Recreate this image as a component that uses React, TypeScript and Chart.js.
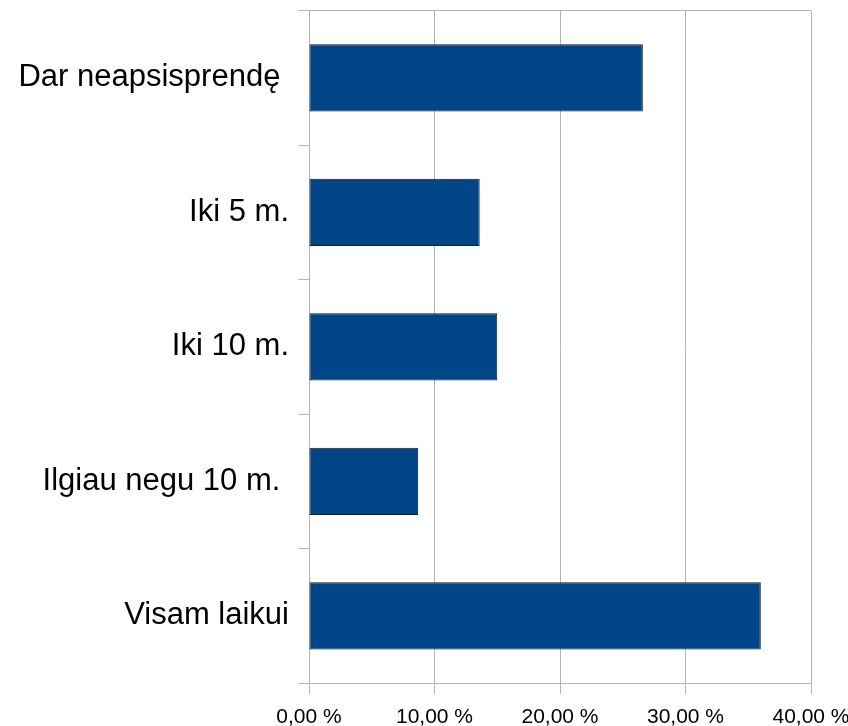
import React, { useEffect, useRef } from "react";
import { Chart, registerables } from "chart.js";

Chart.register(...registerables);

const categories = [
  "Dar neapsisprendę ",
  "Iki 5 m.",
  "Iki 10 m.",
  "Ilgiau negu 10 m. ",
  "Visam laikui",
];
const values = [26.6, 13.6, 15.0, 8.7, 36.0];
const xTickLabels = ["0,00 %", "10,00 %", "20,00 %", "30,00 %", "40,00 %"];

const GRID = "#b3b3b3";
const FONT = "'Liberation Sans', Arial, sans-serif";

export default function App() {
  const ref = useRef<HTMLCanvasElement | null>(null);

  useEffect(() => {
    if (!ref.current) return;
    const chart = new Chart(ref.current, {
      type: "bar",
      data: {
        labels: categories,
        datasets: [
          {
            data: values,
            backgroundColor: "#004586",
            borderColor: "#0a1a2a",
            borderWidth: 1,
            borderSkipped: false,
            barPercentage: 0.5,
            categoryPercentage: 1,
          },
        ],
      },
      options: {
        indexAxis: "y",
        animation: false,
        responsive: true,
        maintainAspectRatio: false,
        layout: { padding: { top: 10.5, left: 0, right: 0, bottom: 0 } },
        plugins: { legend: { display: false }, tooltip: { enabled: false } },
        scales: {
          x: {
            min: 0,
            max: 40,
            ticks: {
              stepSize: 10,
              color: "#000",
              padding: 11,
              font: { family: FONT, size: 21 },
              callback: (_v: any, i: number) => xTickLabels[i],
            },
            grid: { color: GRID, tickColor: GRID, tickLength: 11, lineWidth: 1 },
            border: { color: GRID, width: 1 },
            afterFit: (s: any) => {
              s.height = 43;
              s.paddingRight = 37;
              s.paddingLeft = 0;
            },
          },
          y: {
            ticks: {
              color: "#000",
              padding: 9,
              font: { family: FONT, size: 31 },
            },
            grid: {
              offset: true,
              drawOnChartArea: true,
              color: (ctx: any) => (ctx.index === 0 ? GRID : "rgba(0,0,0,0)"),
              tickColor: GRID,
              tickLength: 11,
            },
            border: { color: GRID, width: 1 },
            afterFit: (s: any) => {
              s.width = 309;
              s.paddingTop = 0;
              s.paddingBottom = 0;
            },
          },
        },
      },
    });
    return () => chart.destroy();
  }, []);

  return (
    <div style={{ position: "fixed", left: 0, top: 0, width: 848, height: 726, background: "#fff" }}>
      <canvas ref={ref} />
    </div>
  );
}
